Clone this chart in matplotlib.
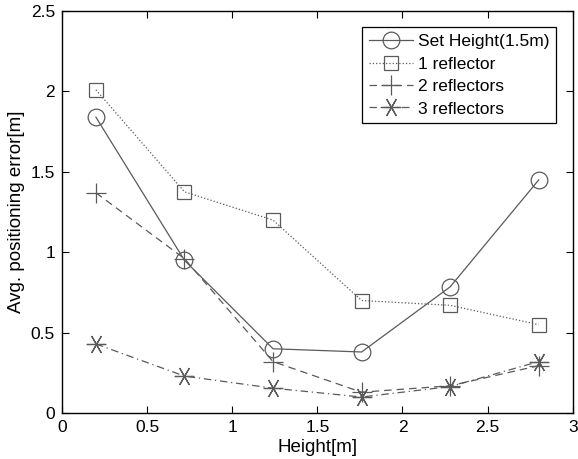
import matplotlib
matplotlib.use("Agg")
import matplotlib.pyplot as plt

heights = [0.2, 0.72, 1.24, 1.76, 2.28, 2.8]
set_height = [1.84, 0.95, 0.40, 0.38, 0.785, 1.45]
one_refl = [2.01, 1.376, 1.20, 0.70, 0.67, 0.55]
two_refl = [1.37, 0.96, 0.32, 0.13, 0.17, 0.295]
three_refl = [0.43, 0.23, 0.155, 0.10, 0.165, 0.32]

labels = ["Set Height(1.5m)", "1 reflector", "2 reflectors", "3 reflectors"]

plt.rcParams["font.family"] = ["Liberation Sans", "DejaVu Sans"]
col = "#5a5a5a"

fig = plt.figure(figsize=(5.78, 4.59), dpi=100)
ax = fig.add_axes([0.107, 0.1, 0.884, 0.876])

ax.plot(heights, set_height, "-", color=col, lw=0.9, marker="o", ms=12,
        mfc="none", mec=col, mew=0.9, label=labels[0])
ax.plot(heights, one_refl, ":", color=col, lw=0.9, marker="s", ms=10,
        mfc="none", mec=col, mew=0.9, label=labels[1])
ax.plot(heights, two_refl, "--", color=col, lw=0.9, dashes=(6, 4), marker="+",
        ms=14, mec=col, mew=0.9, label=labels[2])
ax.plot(heights, three_refl, "-.", color=col, lw=0.9, dashes=(6, 3, 1, 3),
        marker=(6, 2, 90), ms=14, mec=col, mew=0.9, label=labels[3])

ax.set_xlim(0, 3)
ax.set_ylim(0, 2.5)
ax.set_xticks([0, 0.5, 1, 1.5, 2, 2.5, 3])
ax.set_xticklabels(["0", "0.5", "1", "1.5", "2", "2.5", "3"])
ax.set_yticks([0, 0.5, 1, 1.5, 2, 2.5])
ax.set_yticklabels(["0", "0.5", "1", "1.5", "2", "2.5"])
ax.tick_params(direction="in", length=5, width=0.8, labelsize=12.5,
               top=True, right=True, pad=5)
for s in ax.spines.values():
    s.set_linewidth(1.0)

ax.set_xlabel("Height[m]", fontsize=13.5, labelpad=3)
ax.set_ylabel("Avg. positioning error[m]", fontsize=13.5, labelpad=4)

leg = ax.legend(loc="upper right", fontsize=12.5, fancybox=False,
                edgecolor="black", framealpha=1, handlelength=2.5,
                bbox_to_anchor=(0.968, 0.96),
                borderaxespad=0, labelspacing=0.42, handletextpad=0.3,
                borderpad=0.4)
leg.get_frame().set_linewidth(0.9)

fig.savefig("out.png", dpi=100)
